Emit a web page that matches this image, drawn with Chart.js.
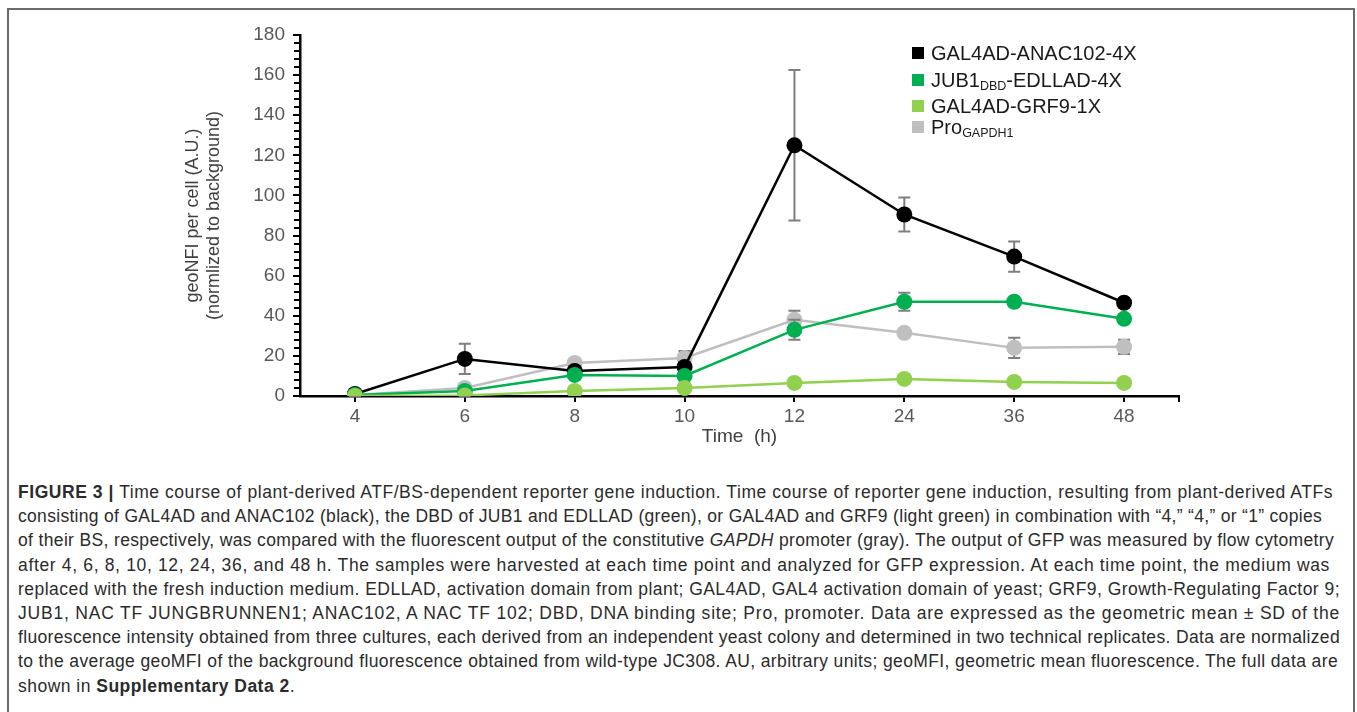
<!DOCTYPE html>
<html>
<head>
<meta charset="utf-8">
<script src="https://cdn.jsdelivr.net/npm/chart.js@4.4.1/dist/chart.umd.min.js"></script>
<style>
  body { margin: 0; width: 1357px; height: 712px; overflow: hidden; background: #fff; position: relative;
    font-family: "Liberation Sans", Arial, sans-serif; }
  #frame { position: absolute; left: 7px; top: 8px; width: 1348px; height: 730px; border: 2px solid #6b6b6b; box-sizing: border-box; }
  #wrap { position: absolute; left: 140px; top: 10px; width: 1060px; height: 460px; }
  .leg { position: absolute; left: 912px; font-size: 20px; color: #1a1a1a; white-space: nowrap; line-height: 22px; }
  .leg i { position: absolute; left: 0; top: 5px; width: 12px; height: 12px; }
  .leg span { position: absolute; left: 19px; top: 0; }
  .leg sub { font-size: 12.5px; vertical-align: -3px; line-height: 0; }
  #caption { position: absolute; left: 18px; top: 480px; font-size: 17.5px; line-height: 24.2px; color: #2b2b2b; }
  #caption div { white-space: nowrap; }
  #caption div span { display: inline-block; white-space: nowrap; }
</style>
</head>
<body>
<div id="frame"></div>
<div id="wrap"><canvas id="chart" width="1060" height="460"></canvas></div>

<div class="leg" style="top:42px"><i style="background:#000"></i><span>GAL4AD-ANAC102-4X</span></div>
<div class="leg" style="top:69px"><i style="background:#00b050"></i><span>JUB1<sub>DBD</sub>-EDLLAD-4X</span></div>
<div class="leg" style="top:95px"><i style="background:#92d050"></i><span>GAL4AD-GRF9-1X</span></div>
<div class="leg" style="top:116px"><i style="background:#bfbfbf"></i><span>Pro<sub>GAPDH1</sub></span></div>

<div id="caption">
  <div><span data-r="1333"><b>FIGURE 3</b> <b>|</b> Time course of plant-derived ATF/BS-dependent reporter gene induction. Time course of reporter gene induction, resulting from plant-derived ATFs</span></div>
  <div><span data-r="1322">consisting of GAL4AD and ANAC102 (black), the DBD of JUB1 and EDLLAD (green), or GAL4AD and GRF9 (light green) in combination with “4,” “4,” or “1” copies</span></div>
  <div><span data-r="1334">of their BS, respectively, was compared with the fluorescent output of the constitutive <i>GAPDH</i> promoter (gray). The output of GFP was measured by flow cytometry</span></div>
  <div><span data-r="1330">after 4, 6, 8, 10, 12, 24, 36, and 48 h. The samples were harvested at each time point and analyzed for GFP expression. At each time point, the medium was</span></div>
  <div><span data-r="1340">replaced with the fresh induction medium. EDLLAD, activation domain from plant; GAL4AD, GAL4 activation domain of yeast; GRF9, Growth-Regulating Factor 9;</span></div>
  <div><span data-r="1340">JUB1, NAC TF JUNGBRUNNEN1; ANAC102, A NAC TF 102; DBD, DNA binding site; Pro, promoter. Data are expressed as the geometric mean ± SD of the</span></div>
  <div><span data-r="1340">fluorescence intensity obtained from three cultures, each derived from an independent yeast colony and determined in two technical replicates. Data are normalized</span></div>
  <div><span data-r="1338">to the average geoMFI of the background fluorescence obtained from wild-type JC308. AU, arbitrary units; geoMFI, geometric mean fluorescence. The full data are</span></div>
  <div><span>shown in <b>Supplementary Data 2</b>.</span></div>
</div>

<script>
// sampling times (h)
const times = ['4', '6', '8', '10', '12', '24', '36', '48']

// geoMFI per cell, normalized to background
const anac102 = [1, 18.5, 12.5, 14.5, 125, 90.5, 69.5, 46.5]
const anac102Sd = [0.3, 7.5, 1.5, 2, 37.5, 8.5, 7.5, 1.5]
const jub1 = [0.5, 2.5, 10.5, 10, 33, 47, 47, 38.5]
const jub1Sd = [0.2, 0.8, 1.2, 1.5, 5, 4.5, 1.5, 2]
const grf9 = [0, 0.3, 2.5, 4, 6.5, 8.5, 7, 6.5]
const grf9Sd = [0.1, 0.3, 0.5, 0.5, 0.8, 1, 0.8, 0.5]
const gapdh = [0.5, 4, 16.5, 19, 38, 31.5, 24, 24.5]
const gapdhSd = [0.3, 1.5, 2, 3.5, 4.5, 1.5, 5, 3.5]

const FONT = '"Liberation Sans", Arial, sans-serif'
const MINOR_STEP = 4

let series = (label, data, sd, color, order) => {
  return {
    label: label,
    data: data,
    sd: sd,
    order: order,
    borderColor: color,
    backgroundColor: color,
    borderWidth: 2.5,
    pointRadius: 8,
    pointHoverRadius: 8,
    pointBorderWidth: 0,
    pointBackgroundColor: color,
    tension: 0
  }
}

// SD whiskers, drawn under each dataset's own markers
const errorBars = {
  id: 'errorBars',
  beforeDatasetDraw (chart, args) {
    let ds = chart.data.datasets[args.index]
    let y = chart.scales.y
    let ctx = chart.ctx
    ctx.save()
    ctx.strokeStyle = '#7f7f7f'
    ctx.lineWidth = 2
    args.meta.data.forEach((pt, j) => {
      let top = y.getPixelForValue(ds.data[j] + ds.sd[j])
      let bot = y.getPixelForValue(Math.max(ds.data[j] - ds.sd[j], 0))
      ctx.beginPath()
      ctx.moveTo(pt.x, top)
      ctx.lineTo(pt.x, bot)
      ctx.moveTo(pt.x - 6, top)
      ctx.lineTo(pt.x + 6, top)
      ctx.moveTo(pt.x - 6, bot)
      ctx.lineTo(pt.x + 6, bot)
      ctx.stroke()
    })
    ctx.restore()
  }
}

// minor ticks on the value axis and a closing tick at the end of the time axis
const axisMarks = {
  id: 'axisMarks',
  afterDraw (chart) {
    let ctx = chart.ctx
    let a = chart.chartArea
    let y = chart.scales.y
    ctx.save()
    ctx.strokeStyle = '#000'
    ctx.lineWidth = 2
    ctx.beginPath()
    for (let v = y.min; v <= y.max; v += MINOR_STEP) {
      let py = Math.round(y.getPixelForValue(v))
      ctx.moveTo(a.left - 6, py)
      ctx.lineTo(a.left, py)
    }
    ctx.moveTo(a.right, a.bottom)
    ctx.lineTo(a.right, a.bottom + 6)
    ctx.stroke()
    ctx.restore()
  }
}

new Chart(document.getElementById('chart'), {
  type: 'line',
  data: {
    labels: times,
    datasets: [
      series('GAL4AD-ANAC102-4X', anac102, anac102Sd, '#000000', 2),
      series('JUB1DBD-EDLLAD-4X', jub1, jub1Sd, '#00b050', 1),
      series('GAL4AD-GRF9-1X', grf9, grf9Sd, '#92d050', 0),
      series('ProGAPDH1', gapdh, gapdhSd, '#bfbfbf', 3)
    ]
  },
  plugins: [errorBars, axisMarks],
  options: {
    responsive: false,
    animation: false,
    devicePixelRatio: 1,
    layout: { padding: { top: 25, right: 21, left: 0, bottom: 0 } },
    plugins: {
      legend: { display: false },
      tooltip: { enabled: false }
    },
    scales: {
      x: {
        offset: true,
        grid: { drawOnChartArea: false, drawTicks: true, tickLength: 6, color: '#000', lineWidth: 2, offset: false },
        border: { color: '#000', width: 2.5 },
        ticks: { color: '#595959', font: { size: 19, family: FONT }, padding: 3, maxRotation: 0 },
        title: { display: true, text: 'Time  (h)', color: '#404040', font: { size: 19, family: FONT }, padding: { top: 0, bottom: 22 } },
        afterFit (scale) { scale.height = 74 }
      },
      y: {
        min: 0,
        max: 180,
        grid: { drawOnChartArea: false, drawTicks: true, tickLength: 7, color: '#000', lineWidth: 2 },
        border: { color: '#000', width: 2.5 },
        ticks: {
          stepSize: 20,
          padding: 8,
          color: '#595959',
          font: { size: 19, family: FONT }
        },
        title: {
          display: true,
          text: ['geoNFI per cell (A.U.)', '(normlized to background)'],
          color: '#404040',
          font: { size: 18, family: FONT, lineHeight: 1.15 },
          padding: { top: 43, bottom: 0 }
        },
        afterFit (scale) { scale.width = 160 }
      }
    }
  }
})

// stretch each caption line to the width it has in the printed figure
let spans = document.querySelectorAll('#caption span')
let spacings = []
spans.forEach(s => {
  if (!s.dataset.r) return
  let target = +s.dataset.r - 18
  let w = s.getBoundingClientRect().width
  let ls = (target - w) / s.textContent.length
  s.style.letterSpacing = ls + 'px'
  spacings.push(ls)
})
let avg = spacings.reduce((a, b) => a + b, 0) / spacings.length
spans[spans.length - 1].style.letterSpacing = avg + 'px'
</script>
</body>
</html>
